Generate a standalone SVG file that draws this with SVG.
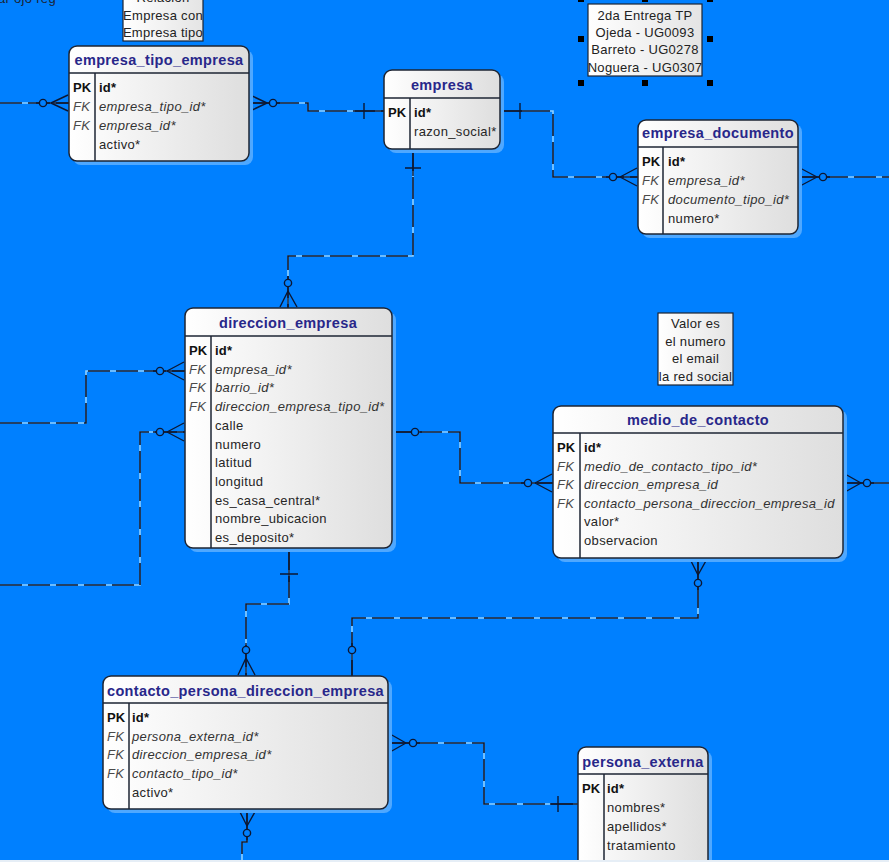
<svg xmlns="http://www.w3.org/2000/svg" width="889" height="862" viewBox="0 0 889 862">
  <defs>
    <linearGradient id="boxFill" x1="0" y1="0" x2="1" y2="0">
      <stop offset="0" stop-color="#ffffff"/>
      <stop offset="1" stop-color="#dedede"/>
    </linearGradient>
    <linearGradient id="noteFill" x1="0" y1="0" x2="1" y2="0">
      <stop offset="0" stop-color="#ffffff"/>
      <stop offset="1" stop-color="#e4e4e4"/>
    </linearGradient>
  </defs>
  <style>
    text { font-family: "Liberation Sans", Arial, sans-serif; }
    .shadow { fill: #4fa8ff; }
    .box { fill: url(#boxFill); stroke: #1c2433; stroke-width: 1.5; }
    .sep { stroke: #1c2433; stroke-width: 1.5; }
    .title { font-size: 14.5px; font-weight: bold; fill: #28278a; text-anchor: middle; letter-spacing: 0.35px; }
    .pk { font-size: 13px; font-weight: bold; fill: #111; }
    .fk { font-size: 13px; font-style: italic; fill: #4a4a4a; letter-spacing: 0.3px; }
    .f { font-size: 13px; fill: #262626; letter-spacing: 0.35px; }
    .fi { font-size: 13px; font-style: italic; fill: #333; letter-spacing: 0.35px; }
    .fb { font-size: 13px; font-weight: bold; fill: #111; letter-spacing: 0.2px; }
    .note { fill: url(#noteFill); stroke: #1c2433; stroke-width: 1.2; }
    .nt { font-size: 13px; fill: #222; text-anchor: middle; letter-spacing: 0.3px; }
    .handle { fill: #000; }
    .lnBase { fill: none; stroke: #8fd0ff; stroke-width: 1.6; }
    .ln { fill: none; stroke: #0b1733; stroke-width: 1.6; stroke-dasharray: 22 6; }
    .sym { fill: none; stroke: #0b1733; stroke-width: 1.4; }
    .ring { fill: #0080ff; stroke: #0b1733; stroke-width: 1.4; }
  </style>

  <rect width="889" height="862" fill="#0080ff"/>

  <!-- caption running off the top edge -->
  <text x="-2" y="3" font-size="13" fill="#1c2433" style="letter-spacing:0.3px">ar ojo reg</text>

  <!-- notes -->
  <g id="note-relacion">
    <rect class="note" x="123" y="-12" width="80" height="53"/>
    <text class="nt" x="163" y="2">Relacion</text>
    <text class="nt" x="163" y="19.5">Empresa con</text>
    <text class="nt" x="163" y="36.5">Empresa tipo</text>
  </g>

  <g id="note-entrega">
    <rect class="note" x="588" y="4" width="114" height="72"/>
    <text class="nt" x="645" y="19.5">2da Entrega TP</text>
    <text class="nt" x="645" y="36.5">Ojeda - UG0093</text>
    <text class="nt" x="645" y="54">Barreto - UG0278</text>
    <text class="nt" x="645" y="71.5">Noguera - UG0307</text>
    <rect class="handle" x="578" y="-4" width="6" height="6"/>
    <rect class="handle" x="642" y="-4" width="6" height="6"/>
    <rect class="handle" x="707" y="-4" width="6" height="6"/>
    <rect class="handle" x="578" y="36" width="6" height="6"/>
    <rect class="handle" x="707" y="36" width="6" height="6"/>
    <rect class="handle" x="578" y="80" width="6" height="6"/>
    <rect class="handle" x="642" y="80" width="6" height="6"/>
    <rect class="handle" x="707" y="80" width="6" height="6"/>
  </g>

  <g id="note-valor">
    <rect class="note" x="658" y="313" width="75" height="72"/>
    <text class="nt" x="695.5" y="327.5">Valor es</text>
    <text class="nt" x="695.5" y="345.5">el numero</text>
    <text class="nt" x="695.5" y="362.5">el email</text>
    <text class="nt" x="695.5" y="380.5">la red social</text>
  </g>

  <!-- relationships -->
  <g id="connectors">
    <!-- lines: light base + dark dashes -->
    <path class="lnBase" d="M0,103 H69"/>
    <path class="ln" d="M0,103 H69"/>
    <path class="lnBase" d="M249,103 H308 V111 H384"/>
    <path class="ln" d="M249,103 H308 V111 H384"/>
    <path class="lnBase" d="M500,111 H553 V177 H638"/>
    <path class="ln" d="M500,111 H553 V177 H638"/>
    <path class="lnBase" d="M798,177 H889"/>
    <path class="ln" d="M798,177 H889"/>
    <path class="lnBase" d="M413,149 V256 H288 V308"/>
    <path class="ln" d="M413,149 V256 H288 V308"/>
    <path class="lnBase" d="M0,423 H86 V371 H185"/>
    <path class="ln" d="M0,423 H86 V371 H185"/>
    <path class="lnBase" d="M0,585 H140 V432 H185"/>
    <path class="ln" d="M0,585 H140 V432 H185"/>
    <path class="lnBase" d="M392,432 H460 V483 H553"/>
    <path class="ln" d="M392,432 H460 V483 H553"/>
    <path class="lnBase" d="M843,483 H889"/>
    <path class="ln" d="M843,483 H889"/>
    <path class="lnBase" d="M289,548 V604 H246 V676"/>
    <path class="ln" d="M289,548 V604 H246 V676"/>
    <path class="lnBase" d="M698,558 V618 H352 V676"/>
    <path class="ln" d="M698,558 V618 H352 V676"/>
    <path class="lnBase" d="M388,743 H484 V804 H578"/>
    <path class="ln" d="M388,743 H484 V804 H578"/>
    <path class="lnBase" d="M247,809 V842 H242 V862"/>
    <path class="ln" d="M247,809 V842 H242 V862"/>

    <!-- solid ends near symbols -->
    <path class="sym" d="M36,103 H69 M249,103 H280 M355,111 H384 M500,111 H528 M606,177 H638 M798,177 H830 M413,149 V176 M288,276 V308 M153,371 H185 M153,432 H185 M392,432 H422 M521,483 H553 M843,483 H874 M289,548 V582 M246,643 V676 M698,558 V590 M352,643 V676 M388,743 H420 M550,804 H578 M247,809 V840"/>

    <!-- crow's feet -->
    <path class="sym" d="M51,103 L68,95 M51,103 L68,111"/>
    <path class="sym" d="M267,103 L250,95 M267,103 L250,111"/>
    <path class="sym" d="M620,177 L637,168 M620,177 L637,186"/>
    <path class="sym" d="M817,177 L800,168 M817,177 L800,186"/>
    <path class="sym" d="M288,291 L280,307 M288,291 L297,307"/>
    <path class="sym" d="M167,371 L184,362 M167,371 L184,380"/>
    <path class="sym" d="M167,432 L184,423 M167,432 L184,441"/>
    <path class="sym" d="M535,483 L552,474 M535,483 L552,492"/>
    <path class="sym" d="M861,483 L845,474 M861,483 L845,492"/>
    <path class="sym" d="M246,658 L238,675 M246,658 L255,675"/>
    <path class="sym" d="M698,575 L690,559 M698,575 L707,559"/>
    <path class="sym" d="M406,743 L390,734 M406,743 L390,752"/>
    <path class="sym" d="M247,826 L239,810 M247,826 L256,810"/>

    <!-- bars -->
    <path class="sym" d="M364,103 V119 M520,103 V119 M405,168 H421 M280,574 H298 M558,796 V812"/>

    <!-- rings -->
    <circle class="ring" cx="43" cy="103" r="3.6"/>
    <circle class="ring" cx="273" cy="103" r="3.6"/>
    <circle class="ring" cx="613" cy="177" r="3.6"/>
    <circle class="ring" cx="823" cy="177" r="3.6"/>
    <circle class="ring" cx="288" cy="283" r="3.6"/>
    <circle class="ring" cx="160" cy="371" r="3.6"/>
    <circle class="ring" cx="160" cy="432" r="3.6"/>
    <circle class="ring" cx="415" cy="432" r="3.6"/>
    <circle class="ring" cx="528" cy="483" r="3.6"/>
    <circle class="ring" cx="867" cy="483" r="3.6"/>
    <circle class="ring" cx="246" cy="650" r="3.6"/>
    <circle class="ring" cx="698" cy="583" r="3.6"/>
    <circle class="ring" cx="352" cy="650" r="3.6"/>
    <circle class="ring" cx="413" cy="743" r="3.6"/>
    <circle class="ring" cx="247" cy="833" r="3.6"/>
  </g>

  <!-- entities -->
  <g id="empresa_tipo_empresa">
    <rect class="shadow" x="73" y="50" width="180" height="115" rx="8"/>
    <rect class="box" x="69" y="46" width="180" height="115" rx="8"/>
    <line class="sep" x1="69" y1="73" x2="249" y2="73"/>
    <line class="sep" x1="95" y1="73" x2="95" y2="161"/>
    <text class="title" x="159" y="65">empresa_tipo_empresa</text>
    <text class="pk" x="73" y="92">PK</text><text class="fb" x="99" y="92">id*</text>
    <text class="fk" x="73" y="111">FK</text><text class="fi" x="99" y="111">empresa_tipo_id*</text>
    <text class="fk" x="73" y="130">FK</text><text class="fi" x="99" y="130">empresa_id*</text>
    <text class="f" x="99" y="149">activo*</text>
  </g>

  <g id="empresa">
    <rect class="shadow" x="388" y="74" width="116" height="79" rx="8"/>
    <rect class="box" x="384" y="70" width="116" height="79" rx="8"/>
    <line class="sep" x1="384" y1="98" x2="500" y2="98"/>
    <line class="sep" x1="410" y1="98" x2="410" y2="149"/>
    <text class="title" x="442" y="90">empresa</text>
    <text class="pk" x="388" y="117">PK</text><text class="fb" x="414" y="117">id*</text>
    <text class="f" x="414" y="136">razon_social*</text>
  </g>

  <g id="empresa_documento">
    <rect class="shadow" x="642" y="124" width="160" height="114" rx="8"/>
    <rect class="box" x="638" y="120" width="160" height="114" rx="8"/>
    <line class="sep" x1="638" y1="147" x2="798" y2="147"/>
    <line class="sep" x1="663" y1="147" x2="663" y2="234"/>
    <text class="title" x="718" y="138">empresa_documento</text>
    <text class="pk" x="642" y="166">PK</text><text class="fb" x="668" y="166">id*</text>
    <text class="fk" x="642" y="185">FK</text><text class="fi" x="668" y="185">empresa_id*</text>
    <text class="fk" x="642" y="204">FK</text><text class="fi" x="668" y="204">documento_tipo_id*</text>
    <text class="f" x="668" y="223">numero*</text>
  </g>

  <g id="direccion_empresa">
    <rect class="shadow" x="189" y="312" width="207" height="240" rx="8"/>
    <rect class="box" x="185" y="308" width="207" height="240" rx="8"/>
    <line class="sep" x1="185" y1="336" x2="392" y2="336"/>
    <line class="sep" x1="211" y1="336" x2="211" y2="548"/>
    <text class="title" x="288" y="328">direccion_empresa</text>
    <text class="pk" x="189" y="355">PK</text><text class="fb" x="215" y="355">id*</text>
    <text class="fk" x="189" y="373.5">FK</text><text class="fi" x="215" y="373.5">empresa_id*</text>
    <text class="fk" x="189" y="392">FK</text><text class="fi" x="215" y="392">barrio_id*</text>
    <text class="fk" x="189" y="411">FK</text><text class="fi" x="215" y="411">direccion_empresa_tipo_id*</text>
    <text class="f" x="215" y="429.5">calle</text>
    <text class="f" x="215" y="448.5">numero</text>
    <text class="f" x="215" y="467">latitud</text>
    <text class="f" x="215" y="486">longitud</text>
    <text class="f" x="215" y="504.5">es_casa_central*</text>
    <text class="f" x="215" y="523">nombre_ubicacion</text>
    <text class="f" x="215" y="542">es_deposito*</text>
  </g>

  <g id="medio_de_contacto">
    <rect class="shadow" x="557" y="410" width="290" height="152" rx="8"/>
    <rect class="box" x="553" y="406" width="290" height="152" rx="8"/>
    <line class="sep" x1="553" y1="433" x2="843" y2="433"/>
    <line class="sep" x1="580" y1="433" x2="580" y2="558"/>
    <text class="title" x="698" y="425">medio_de_contacto</text>
    <text class="pk" x="557" y="452">PK</text><text class="fb" x="584" y="452">id*</text>
    <text class="fk" x="557" y="470.5">FK</text><text class="fi" x="584" y="470.5">medio_de_contacto_tipo_id*</text>
    <text class="fk" x="557" y="489">FK</text><text class="fi" x="584" y="489">direccion_empresa_id</text>
    <text class="fk" x="557" y="507.5">FK</text><text class="fi" x="584" y="507.5">contacto_persona_direccion_empresa_id</text>
    <text class="f" x="584" y="526">valor*</text>
    <text class="f" x="584" y="545">observacion</text>
  </g>

  <g id="contacto_persona_direccion_empresa">
    <rect class="shadow" x="107" y="680" width="285" height="133" rx="8"/>
    <rect class="box" x="103" y="676" width="285" height="133" rx="8"/>
    <line class="sep" x1="103" y1="703" x2="388" y2="703"/>
    <line class="sep" x1="129" y1="703" x2="129" y2="809"/>
    <text class="title" x="245.5" y="696">contacto_persona_direccion_empresa</text>
    <text class="pk" x="107" y="722">PK</text><text class="fb" x="132" y="722">id*</text>
    <text class="fk" x="107" y="740.5">FK</text><text class="fi" x="132" y="740.5">persona_externa_id*</text>
    <text class="fk" x="107" y="759">FK</text><text class="fi" x="132" y="759">direccion_empresa_id*</text>
    <text class="fk" x="107" y="778">FK</text><text class="fi" x="132" y="778">contacto_tipo_id*</text>
    <text class="f" x="132" y="797">activo*</text>
  </g>

  <g id="persona_externa">
    <rect class="shadow" x="582" y="751" width="130" height="130" rx="8"/>
    <rect class="box" x="578" y="747" width="130" height="130" rx="8"/>
    <line class="sep" x1="578" y1="774" x2="708" y2="774"/>
    <line class="sep" x1="604" y1="774" x2="604" y2="877"/>
    <text class="title" x="643" y="767">persona_externa</text>
    <text class="pk" x="582" y="793">PK</text><text class="fb" x="607" y="793">id*</text>
    <text class="f" x="607" y="812">nombres*</text>
    <text class="f" x="607" y="831">apellidos*</text>
    <text class="f" x="607" y="850">tratamiento</text>
  </g>

  <!-- thin light strip along the bottom edge -->
  <rect x="0" y="860" width="889" height="2" fill="#e6eef6"/>
</svg>
